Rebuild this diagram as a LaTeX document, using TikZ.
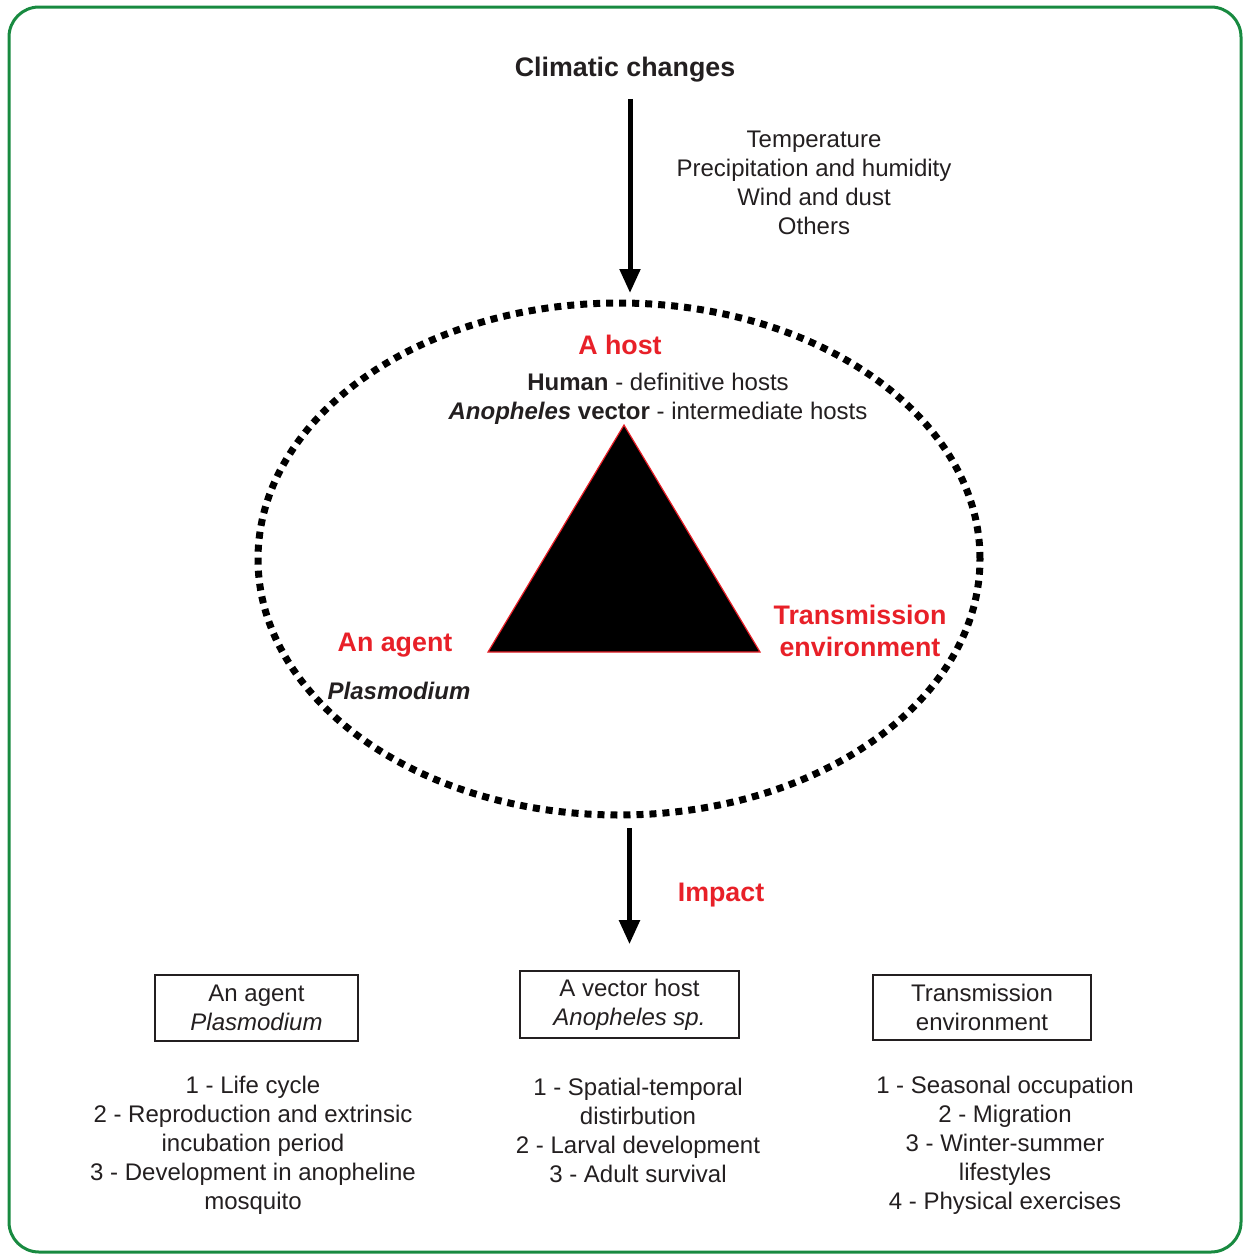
\documentclass[tikz,border=0pt]{standalone}
\usepackage{fontspec}
\setmainfont{Liberation Sans}
\usepackage{xcolor}
\usetikzlibrary{arrows.meta,shapes.geometric}
\definecolor{hostred}{RGB}{232,32,40}
\definecolor{framegreen}{RGB}{24,138,64}
\definecolor{ink}{RGB}{35,31,32}

\begin{document}
\begin{tikzpicture}[x=0.5pt, y=-0.5pt,
  >={Triangle[length=12pt,width=10pt]},
  txt/.style  ={font=\fontsize{12}{14.5}\selectfont, text=ink, align=center,
                inner sep=2pt},
  head/.style ={font=\fontsize{13.4}{16}\selectfont\bfseries, text=hostred,
                align=center, inner sep=2pt},
  box/.style  ={txt, draw=ink, line width=.8pt},
  arr/.style  ={->, line width=2.5pt, draw=black},
  cyc/.style  ={draw=black, ellipse, line width=3.5pt,
                dash pattern=on 3.5pt off 3pt, inner sep=0pt}]

  \useasboundingbox (0,0) rectangle (1243,1254);
  \draw[framegreen, line width=1.5pt, rounded corners=15pt]
    (9,7) rectangle (1241,1252);

  % --- climate input -----------------------------------------------------
  \node[txt, font=\fontsize{13.4}{16}\selectfont\bfseries] (climate)
    at (625,70) {Climatic changes};
  \node[txt] (factors) at (814,183)
    {Temperature\\Precipitation and humidity\\Wind and dust\\Others};

  % --- epidemiological triad ---------------------------------------------
  \node[cyc, minimum width=361pt, minimum height=256pt] (cycle) at (619,559) {};
  \filldraw[fill=black, draw=hostred, line width=.6pt]
    (624,425) -- (760,652) -- (488,652) -- cycle;

  \node[head] (host) at (620,345) {A host};
  \node[txt] (hostinfo) at (658,399)
    {\textbf{Human} - definitive hosts\\
     \textbf{\textit{Anopheles} vector} - intermediate hosts};
  \node[head] (agent) at (395,645) {An agent};
  \node[txt] (plasmo) at (399,691) {\textbf{\textit{Plasmodium}}};
  \node[head] (env) at (860,631) {Transmission\\environment};
  \node[head] (impact) at (721,895) {Impact};

  % --- impact boxes ------------------------------------------------------
  \node[box, minimum width=101.5pt, minimum height=33pt] (agentbox)
    at (256.5,1008) {An agent\\\textit{Plasmodium}};
  \node[box, minimum width=109.5pt, minimum height=33.5pt] (vecbox)
    at (629.5,1004.5) {A vector host\\\textit{Anopheles sp.}};
  \node[box, minimum width=109pt, minimum height=32.5pt] (envbox)
    at (982,1007.5) {Transmission\\environment};

  \node[txt] (agentlist) at (253,1145)
    {1 - Life cycle\\2 - Reproduction and extrinsic\\incubation period\\
     3 - Development in anopheline\\mosquito};
  \node[txt] (veclist) at (638,1130)
    {1 - Spatial-temporal\\distirbution\\2 - Larval development\\
     3 - Adult survival};
  \node[txt] (envlist) at (1005,1145)
    {1 - Seasonal occupation\\2 - Migration\\3 - Winter-summer\\lifestyles\\
     4 - Physical exercises};

  % --- arrows ------------------------------------------------------------
  \draw[arr, shorten <=6pt, shorten >=3.25pt]
    ([xshift=2.5pt]climate.south) -- ([xshift=2.5pt]climate.south |- cycle.north);
  \draw[arr, shorten <=4.75pt, shorten >=13pt]
    (cycle.south -| vecbox.north) -- (vecbox.north);
\end{tikzpicture}
\end{document}
